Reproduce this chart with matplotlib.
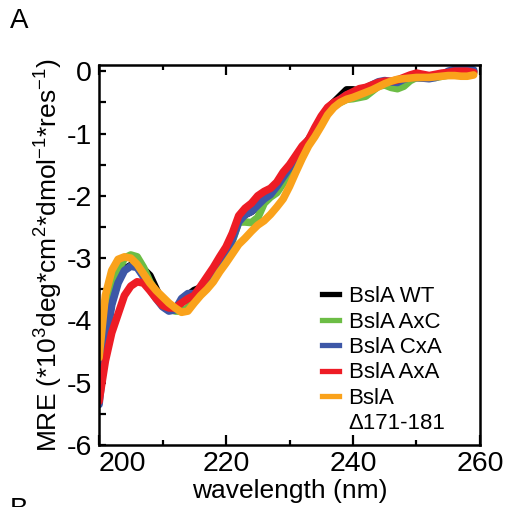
import matplotlib
matplotlib.use("Agg")
import matplotlib.pyplot as plt
from matplotlib.lines import Line2D

plt.rcParams['font.family'] = ['Liberation Sans', 'DejaVu Sans']
plt.rcParams['mathtext.fontset'] = 'custom'
plt.rcParams['mathtext.rm'] = 'Liberation Sans'
plt.rcParams['mathtext.it'] = 'Liberation Sans'
plt.rcParams['axes.unicode_minus'] = False

# wavelength (nm) and mean residue ellipticity (x10^3 deg cm^2 dmol^-1 res^-1)
wavelength = list(range(200, 260))

wt = [-5.2, -4.3, -3.7, -3.35, -3.18, -3.12, -3.12, -3.18, -3.28, -3.5,
      -3.72, -3.82, -3.82, -3.7, -3.6, -3.52, -3.48, -3.35, -3.2, -3.05,
      -2.9, -2.68, -2.4, -2.3, -2.25, -2.15, -2.05, -1.97, -1.85, -1.7,
      -1.55, -1.4, -1.25, -1.1, -0.95, -0.75, -0.6, -0.5, -0.4, -0.3,
      -0.3, -0.32, -0.3, -0.25, -0.2, -0.18, -0.18, -0.16, -0.12, -0.1,
      -0.1, -0.1, -0.1, -0.08, -0.05, -0.02, 0.0, 0.02, 0.02, 0.0]

axc = [-5.1, -4.1, -3.55, -3.2, -3.0, -2.95, -2.98, -3.15, -3.38, -3.55,
       -3.7, -3.8, -3.85, -3.85, -3.8, -3.68, -3.55, -3.42, -3.3, -3.15,
       -2.95, -2.72, -2.42, -2.42, -2.43, -2.35, -2.12, -2.02, -1.95, -1.8,
       -1.62, -1.45, -1.3, -1.15, -1.0, -0.8, -0.62, -0.55, -0.5, -0.45,
       -0.44, -0.42, -0.4, -0.32, -0.24, -0.22, -0.26, -0.28, -0.24, -0.15,
       -0.1, -0.1, -0.1, -0.1, -0.08, -0.06, -0.04, -0.04, -0.04, -0.03]

cxa = [-5.35, -4.4, -3.75, -3.4, -3.2, -3.13, -3.15, -3.3, -3.5, -3.65,
       -3.78, -3.85, -3.83, -3.65, -3.57, -3.57, -3.5, -3.38, -3.22, -3.08,
       -2.92, -2.7, -2.42, -2.3, -2.25, -2.15, -2.05, -1.98, -1.85, -1.7,
       -1.55, -1.4, -1.25, -1.12, -0.95, -0.75, -0.6, -0.52, -0.45, -0.38,
       -0.35, -0.3, -0.27, -0.22, -0.17, -0.15, -0.17, -0.18, -0.13, -0.1,
       -0.1, -0.11, -0.12, -0.1, -0.06, 0.0, 0.03, 0.05, 0.05, 0.02]

axa = [-5.3, -4.65, -4.2, -3.9, -3.6, -3.45, -3.38, -3.4, -3.52, -3.65,
       -3.76, -3.8, -3.8, -3.72, -3.65, -3.6, -3.45, -3.3, -3.15, -2.98,
       -2.82, -2.6, -2.32, -2.2, -2.12, -2.0, -1.93, -1.88, -1.78, -1.62,
       -1.5, -1.35, -1.2, -1.1, -0.9, -0.72, -0.58, -0.5, -0.45, -0.38,
       -0.33, -0.28, -0.26, -0.22, -0.18, -0.16, -0.16, -0.14, -0.1, -0.06,
       -0.03, -0.05, -0.07, -0.05, -0.03, -0.02, 0.0, 0.0, 0.0, -0.02]

delta = [-4.6, -3.6, -3.2, -3.02, -2.98, -3.0, -3.1, -3.25, -3.4, -3.52,
         -3.62, -3.72, -3.8, -3.87, -3.85, -3.72, -3.6, -3.5, -3.38, -3.22,
         -3.08, -2.93, -2.78, -2.68, -2.57, -2.47, -2.4, -2.3, -2.18, -2.05,
         -1.85, -1.62, -1.4, -1.2, -1.05, -0.88, -0.7, -0.58, -0.5, -0.45,
         -0.42, -0.38, -0.34, -0.3, -0.25, -0.2, -0.16, -0.13, -0.12, -0.11,
         -0.1, -0.1, -0.1, -0.09, -0.08, -0.07, -0.07, -0.08, -0.08, -0.06]

series = [wt, axc, cxa, axa, delta]
labels = ['BslA WT', 'BslA AxC', 'BslA CxA', 'BslA AxA', 'BslA']
colors = ['#000000', '#6cbd45', '#3d57a7', '#ee1c25', '#faa21b']

xticks = [200, 220, 240, 260]
xminor = [210, 230, 250]
yticks = [0, -1, -2, -3, -4, -5, -6]

fig = plt.figure(figsize=(5.06, 5.07), dpi=100)
ax = fig.add_axes([0.1957, 0.1223, 0.7529, 0.7495])

for y, c in zip(series, colors):
    ax.plot(wavelength, y, color=c, lw=5.5, solid_capstyle='round',
            solid_joinstyle='round')

ax.set_xlim(200, 260)
ax.set_ylim(-6, 0.1)

ax.set_xticks(xticks)
ax.set_xticks(xminor, minor=True)
ax.set_yticks(yticks)
ax.yaxis.set_minor_locator(plt.MultipleLocator(0.5))

ax.tick_params(axis='x', which='both', direction='in', top=True, labelsize=20.5, pad=4)
ax.tick_params(axis='x', which='major', length=7, width=1.6)
ax.tick_params(axis='x', which='minor', length=3.5, width=1.6)
ax.tick_params(axis='y', which='both', direction='in', labelsize=20.5, pad=5)
ax.tick_params(axis='y', which='major', length=5, width=1.6)
ax.tick_params(axis='y', which='minor', length=5, width=1.6)
for s in ax.spines.values():
    s.set_linewidth(1.8)

# the "200" label sits right of its tick, clear of "-6"
ax.get_xticklabels()[0].set_horizontalalignment('left')

ax.set_xlabel('wavelength (nm)', fontsize=19, labelpad=2)
ax.set_ylabel('MRE (*10$^3$deg*cm$^2$*dmol$^{-1}$*res$^{-1}$)', fontsize=19, labelpad=1)

handles = [Line2D([], [], color=c, lw=3.8) for c in colors]
handles.append(Line2D([], [], color='none'))
leg = ax.legend(handles, labels + ['\u0394171-181'], loc='lower right',
                bbox_to_anchor=(0.95, -0.013), frameon=False, fontsize=16,
                handlelength=0.75, handletextpad=0.45, labelspacing=0.2,
                borderaxespad=0.3)

fig.text(0.02, 0.985, 'A', fontsize=20, va='top', ha='left')
fig.text(0.02, 0.02, 'B', fontsize=20, va='top', ha='left')

fig.savefig('out.png', dpi=100)
